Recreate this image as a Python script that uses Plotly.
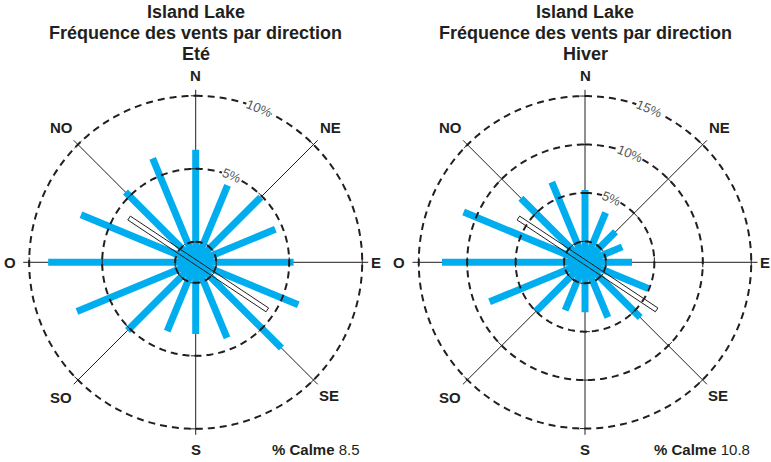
import math
import plotly.graph_objects as go

# ---- data -----------------------------------------------------------------
SECTORS = ["N", "NNE", "NE", "ENE", "E", "ESE", "SE", "SSE",
           "S", "SSO", "SO", "OSO", "O", "ONO", "NO", "NNO"]
SECTOR_BEARINGS = [i * 22.5 for i in range(16)]

# frequency of winds (%) by direction
FREQ_ETE = [6.3, 4.3, 4.9, 4.5, 5.3, 6.2, 6.9, 4.2,
            3.5, 3.7, 5.2, 7.4, 8.7, 7.1, 5.4, 6.3]
FREQ_HIVER = [5.3, 3.4, 2.3, 2.0, 2.7, 4.9, 5.9, 4.0,
              3.0, 3.2, 5.0, 8.5, 12.6, 11.4, 7.2, 6.8]
CALME_ETE = 8.5
CALME_HIVER = 10.8

CARDINAL_BEARINGS = [0, 45, 90, 135, 180, 225, 270, 315]
CARDINAL_LABELS = ["N", "NE", "E", "SE", "S", "SO", "O", "NO"]

RINGS_ETE = [0, 5, 10]
RINGS_HIVER = [0, 5, 10, 15]

RUNWAY_BEARING = 123.6  # runway 12/30

# ---- page geometry ---------------------------------------------------------
W, H = 771, 462
INK = "#231f20"
BLUE = "#00aeef"
FONT = "Liberation Sans, Arial, sans-serif"
R_PX = 172.5  # radius of the plotting circle in pixels
# distance (px) from the rose centre to each compass label's centre
LABEL_DIST = [187, 190, 180, 188, 187, 191, 186, 190]

ROSES = [
    dict(name="Eté", freq=FREQ_ETE, calme=CALME_ETE, rings=RINGS_ETE,
         cx=195.7, cy=262.3, rmin=-1.404, rmax=10.41, calme_right=362),
    dict(name="Hiver", freq=FREQ_HIVER, calme=CALME_HIVER, rings=RINGS_HIVER,
         cx=585.0, cy=262.3, rmin=-2.157, rmax=15.645, calme_right=752),
]

fig = go.Figure()
annotations = []
layout_polars = {}


def px_to_polar(x, y, rmin, rmax):
    """Screen offset (x right, y up, pixels) -> (r, bearing) in data units."""
    d = math.hypot(x, y)
    b = math.degrees(math.atan2(x, y)) % 360
    return rmin + d / R_PX * (rmax - rmin), b


for i, rose in enumerate(ROSES):
    sub = "polar" if i == 0 else f"polar{i + 1}"
    cx, cy, rmin, rmax = rose["cx"], rose["cy"], rose["rmin"], rose["rmax"]
    scale = R_PX / (rmax - rmin)  # px per percent

    layout_polars[sub] = dict(
        domain=dict(x=[(cx - R_PX) / W, (cx + R_PX) / W],
                    y=[(H - cy - R_PX) / H, (H - cy + R_PX) / H]),
        bgcolor="white",
        radialaxis=dict(range=[rmin, rmax], showgrid=False, showline=False,
                        showticklabels=False, ticks=""),
        angularaxis=dict(rotation=90, direction="clockwise",
                         tickmode="array", tickvals=CARDINAL_BEARINGS,
                         showticklabels=False,
                         showgrid=True, gridcolor=INK, gridwidth=1,
                         showline=False, ticks=""),
    )

    # compass labels
    for b, lab, dist in zip(CARDINAL_BEARINGS, CARDINAL_LABELS, LABEL_DIST):
        br_ = math.radians(b)
        annotations.append(dict(
            x=(cx + dist * math.sin(br_)) / W, y=(H - cy + dist * math.cos(br_)) / H,
            xref="paper", yref="paper", text=f"<b>{lab}</b>", showarrow=False,
            font=dict(family=FONT, size=15, color=INK),
            xanchor="center", yanchor="middle"))

    # runway: a narrow rectangle along its bearing, sizes in pixels
    ub = math.radians(RUNWAY_BEARING)
    ux, uy = math.sin(ub), math.cos(ub)
    vx, vy = uy, -ux
    half_w = 2.3
    corners = []
    for u, v in [(-80, -half_w), (86, -half_w), (86, half_w), (-80, half_w), (-80, -half_w)]:
        corners.append(px_to_polar(u * ux + v * vx, u * uy + v * vy, rmin, rmax))
    rw_r = [c[0] for c in corners]
    rw_t = [c[1] for c in corners]

    fig.add_trace(go.Scatterpolar(
        r=rw_r, theta=rw_t, mode="lines", fill="toself", fillcolor="white",
        line=dict(width=0, color="white"), subplot=sub, showlegend=False,
        hoverinfo="skip"))

    # wind frequency bars, drawn as thick spokes from the centre
    br, bt = [], []
    for b, f in zip(SECTOR_BEARINGS, rose["freq"]):
        br += [rmin, f, None]
        bt += [b, b, None]
    fig.add_trace(go.Scatterpolar(
        r=br, theta=bt, mode="lines", line=dict(color=BLUE, width=7),
        subplot=sub, showlegend=False, connectgaps=False,
        hovertext=SECTORS, hoverinfo="skip"))

    # dashed frequency rings
    ring_theta = [k for k in range(0, 361)]
    for rv in rose["rings"]:
        fig.add_trace(go.Scatterpolar(
            r=[rv] * len(ring_theta), theta=ring_theta, mode="lines",
            line=dict(color=INK, width=2, dash="7px,5px"),
            subplot=sub, showlegend=False, hoverinfo="skip"))

    # small ticks where rings cross the direction lines
    tr, tt, ta = [], [], []
    for b in CARDINAL_BEARINGS:
        for rv in rose["rings"]:
            tr.append(rv)
            tt.append(b)
            ta.append(b)
    fig.add_trace(go.Scatterpolar(
        r=tr, theta=tt, mode="markers",
        marker=dict(symbol="line-ew", size=7, angle=ta,
                    line=dict(color=INK, width=1)),
        subplot=sub, showlegend=False, hoverinfo="skip"))

    # runway outline on top
    fig.add_trace(go.Scatterpolar(
        r=rw_r, theta=rw_t, mode="lines",
        line=dict(width=1, color=INK), subplot=sub, showlegend=False,
        hoverinfo="skip"))

    # ring labels, along the circle at NNE
    for rv in rose["rings"][1:]:
        d = (rv - rmin) * scale
        b = math.radians(22.5)
        annotations.append(dict(
            x=(cx + d * math.sin(b)) / W, y=(H - cy + d * math.cos(b)) / H,
            xref="paper", yref="paper", text=f"{rv}%", showarrow=False,
            textangle=22.5, bgcolor="white", borderpad=0,
            font=dict(family=FONT, size=13, color="#555555"),
            xanchor="center", yanchor="middle"))

    # titles
    for text, ypx in [("Island Lake", 12), ("Fréquence des vents par direction", 33),
                      (rose["name"], 54)]:
        annotations.append(dict(
            x=cx / W, y=1 - ypx / H, xref="paper", yref="paper",
            text=f"<b>{text}</b>", showarrow=False,
            font=dict(family=FONT, size=18, color=INK),
            xanchor="center", yanchor="middle"))

    # calm percentage
    annotations.append(dict(
        x=rose["calme_right"] / W, y=1 - 449 / H, xref="paper", yref="paper",
        text=f"<b>% Calme</b> {rose['calme']}", showarrow=False,
        font=dict(family="Liberation Sans Narrow, Arial Narrow, " + FONT,
                  size=15, color=INK),
        xanchor="right", yanchor="middle"))

fig.update_layout(
    width=W, height=H, margin=dict(l=0, r=0, t=0, b=0),
    paper_bgcolor="white", plot_bgcolor="white",
    showlegend=False, annotations=annotations, **layout_polars)

fig.write_html("out.html")
